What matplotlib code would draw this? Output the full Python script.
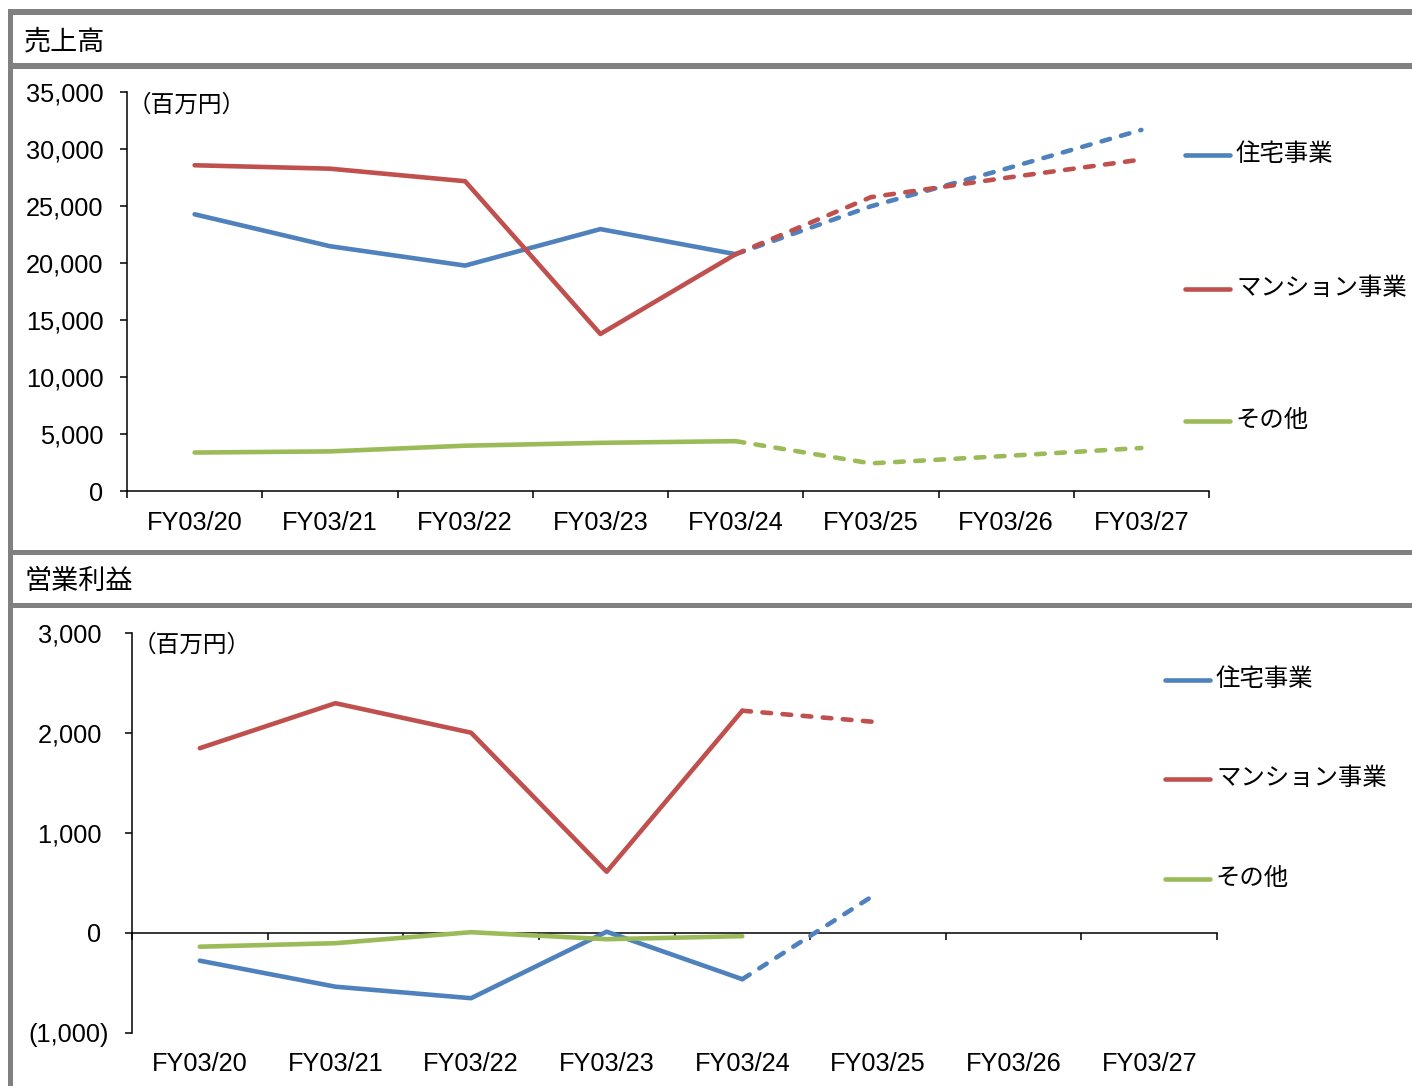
import numpy as np
import matplotlib
matplotlib.use('Agg')
import matplotlib.pyplot as plt
from matplotlib.lines import Line2D
from matplotlib.patches import Rectangle

plt.rcParams['font.family'] = ['Liberation Sans', 'Noto Sans CJK JP']

# データ (百万円)
years = ['FY03/20', 'FY03/21', 'FY03/22', 'FY03/23', 'FY03/24', 'FY03/25', 'FY03/26', 'FY03/27']
segments = ['住宅事業', 'マンション事業', 'その他']
colors = ['#4F81BD', '#C0504D', '#9BBB59']

# 売上高
sales_housing = [24300, 21500, 19800, 23000, 20800, 25000, 28300, 31700]
sales_condo = [28600, 28300, 27200, 13800, 20800, 25800, 27500, 29100]
sales_other = [3400, 3500, 4000, 4250, 4400, 2450, 3100, 3800]

# 営業利益
op_housing = [-280, -540, -655, 10, -465, 400]
op_condo = [1845, 2295, 2000, 610, 2220, 2105]
op_other = [-140, -105, 5, -65, -35]

n_actual = 5  # FY03/20〜FY03/24 が実績、以降は予想(破線)

W, H = 1412, 1086
LW = 3.3
fig = plt.figure(figsize=(W / 100, H / 100), dpi=100)


def fx(px):
    return px / W


def fy(py):
    return 1 - py / H


def draw_lines(ax, series):
    for vals, c in zip(series, colors):
        x = np.arange(len(vals))
        a = min(len(vals), n_actual)
        ax.plot(x[:a], vals[:a], color=c, lw=LW, solid_capstyle='round',
                solid_joinstyle='round', zorder=3)
        if len(vals) > n_actual:
            ax.plot(x[a - 1:], vals[a - 1:], color=c, lw=LW, dashes=(1.9, 2.5),
                    dash_capstyle='round', zorder=3)


def style_axes(ax):
    for s in ['top', 'right']:
        ax.spines[s].set_visible(False)
    for s in ['left', 'bottom']:
        ax.spines[s].set_linewidth(1.1)
    ax.set_xlim(-0.5, 7.5)
    ax.set_xticks(np.arange(-0.5, 8), minor=True)
    ax.tick_params(axis='x', which='minor', length=5, width=1.1, direction='out')
    ax.tick_params(axis='y', length=5, width=1.1, pad=12, labelsize=18.3)


# ---- 売上高 ----
ax1 = fig.add_axes([fx(127), fy(491.3), (1209 - 127) / W, 399 / H])
draw_lines(ax1, [sales_housing, sales_condo, sales_other])
style_axes(ax1)
ax1.set_ylim(0, 35000)
ticks1 = np.arange(0, 35001, 5000)
ax1.set_yticks(ticks1, [f'{t:,}' for t in ticks1])
ax1.set_xticks(range(len(years)), years)
ax1.tick_params(axis='x', which='major', length=0, pad=14, labelsize=18.3)

# ---- 営業利益 ----
ax2 = fig.add_axes([fx(132), fy(1032.7), (1217 - 132) / W, 400 / H])
draw_lines(ax2, [op_housing, op_condo, op_other])
style_axes(ax2)
ax2.set_ylim(-1000, 3000)
ticks2 = np.arange(-1000, 3001, 1000)
ax2.set_yticks(ticks2, [f'({-t:,})' if t < 0 else f'{t:,} ' for t in ticks2])
ax2.spines['bottom'].set_position(('data', 0))
ax2.set_xticks(range(len(years)), [''] * len(years))
ax2.tick_params(axis='x', which='major', length=0)
sec = ax2.secondary_xaxis(0)
sec.set_xticks(range(len(years)), years)
sec.tick_params(length=0, pad=14, labelsize=18.3)
sec.spines['bottom'].set_visible(False)

# 単位
fig.text(fx(128), fy(105), '（百万円）', fontsize=17, va='center', ha='left')
fig.text(fx(133), fy(645), '（百万円）', fontsize=17, va='center', ha='left')

# 凡例
for ys, x0 in [([155, 289, 421], 1185), ([680, 779, 879], 1165)]:
    for y, lab, c in zip(ys, segments, colors):
        fig.add_artist(Line2D([fx(x0), fx(x0 + 45)], [fy(y), fy(y)], color=c, lw=LW,
                              solid_capstyle='round'))
        fig.text(fx(x0 + 51), fy(y), lab, fontsize=17.6, va='center', ha='left')

# 見出しと枠
fig.text(fx(24), fy(42), '売上高', fontsize=19.5, va='center', ha='left')
fig.text(fx(24), fy(582), '営業利益', fontsize=19.5, va='center', ha='left')

gray = '#808080'
for y0, y1 in [(9, 15), (63, 69), (550, 555), (603, 608)]:
    fig.add_artist(Rectangle((fx(8), fy(y1)), (W - 8) / W, (y1 - y0) / H,
                             transform=fig.transFigure, color=gray, lw=0))
fig.add_artist(Rectangle((fx(8), 0), 5 / W, fy(9), transform=fig.transFigure,
                         color=gray, lw=0))

fig.savefig('out.png', dpi=100)
